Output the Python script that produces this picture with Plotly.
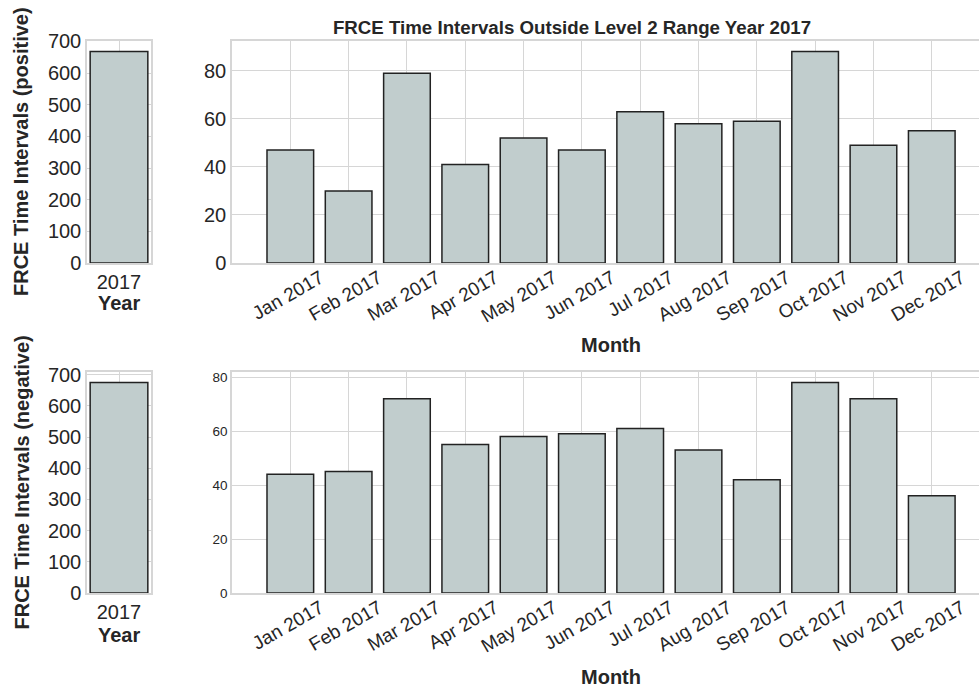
import plotly.graph_objects as go

# ---------------- data ----------------
months = ["Jan 2017", "Feb 2017", "Mar 2017", "Apr 2017", "May 2017", "Jun 2017",
          "Jul 2017", "Aug 2017", "Sep 2017", "Oct 2017", "Nov 2017", "Dec 2017"]
pos_monthly = [47, 30, 79, 41, 52, 47, 63, 58, 59, 88, 49, 55]
neg_monthly = [44, 45, 72, 55, 58, 59, 61, 53, 42, 78, 72, 36]
years = ["2017"]
pos_yearly = [sum(pos_monthly)]
neg_yearly = [sum(neg_monthly)]

title_text = "FRCE Time Intervals Outside Level 2 Range Year 2017"
ylab_pos = "FRCE Time Intervals (positive)"
ylab_neg = "FRCE Time Intervals (negative)"

# ---------------- style ----------------
W, H = 979, 689
FILL = "#C1CDCD"
EDGE = "#222222"
GRID = "#d6d6d6"
TXT = "#262626"
FONT = "Liberation Sans, Arial, sans-serif"


def px_x(p):
    return p / W


def px_y(p):
    return 1 - p / H


left_dom = [px_x(87), px_x(151)]
right_dom = [px_x(232), 1.0]
top_dom = [px_y(263), px_y(41)]
bot_dom = [px_y(593), px_y(372)]

fig = go.Figure()

bar_style = dict(marker=dict(color=FILL, line=dict(color=EDGE, width=1.5)),
                 showlegend=False, hoverinfo="x+y")

fig.add_trace(go.Bar(x=years, y=pos_yearly, width=0.8, xaxis="x", yaxis="y", **bar_style))
fig.add_trace(go.Bar(x=months, y=pos_monthly, width=0.8, xaxis="x2", yaxis="y2", **bar_style))
fig.add_trace(go.Bar(x=years, y=neg_yearly, width=0.8, xaxis="x3", yaxis="y3", **bar_style))
fig.add_trace(go.Bar(x=months, y=neg_monthly, width=0.8, xaxis="x4", yaxis="y4", **bar_style))

common = dict(showline=True, mirror=True, linecolor=GRID, linewidth=1.5,
              showgrid=True, gridcolor=GRID, gridwidth=1, zeroline=False,
              ticks="", automargin=False, color=TXT)

year_x = dict(common, type="category", range=[-0.444, 0.444],
              tickfont=dict(size=20, family=FONT, color=TXT))
month_x = dict(common, type="category", range=[-1, 11.81], tickangle=-30,
               ticklabelshift=30, ticklabelstandoff=-5,
               tickfont=dict(size=19, family=FONT, color=TXT))
right_y = dict(common, mirror=False)

fig.update_layout(
    width=W, height=H,
    margin=dict(l=0, r=0, t=0, b=0),
    paper_bgcolor="white", plot_bgcolor="white",
    font=dict(family=FONT, color=TXT),
    bargap=0.2,
    xaxis=dict(year_x, domain=left_dom, anchor="y"),
    yaxis=dict(common, domain=top_dom, anchor="x", range=[0, 701.4],
               tickvals=[0, 100, 200, 300, 400, 500, 600, 700],
               tickfont=dict(size=20, family=FONT, color=TXT)),
    xaxis2=dict(month_x, domain=right_dom, anchor="y2"),
    yaxis2=dict(right_y, domain=top_dom, anchor="x2", range=[0, 92.4],
                tickvals=[0, 20, 40, 60, 80],
                tickfont=dict(size=20, family=FONT, color=TXT)),
    xaxis3=dict(year_x, domain=left_dom, anchor="y3"),
    yaxis3=dict(common, domain=bot_dom, anchor="x3", range=[0, 709],
                tickvals=[0, 100, 200, 300, 400, 500, 600, 700],
                tickfont=dict(size=20, family=FONT, color=TXT)),
    xaxis4=dict(month_x, domain=right_dom, anchor="y4"),
    yaxis4=dict(right_y, domain=bot_dom, anchor="x4", range=[0, 81.9],
                tickvals=[0, 20, 40, 60, 80],
                tickfont=dict(size=13.5, family=FONT, color=TXT)),
    title=dict(text="<b>" + title_text + "</b>", x=px_x(572), xanchor="center",
               y=px_y(27), yanchor="middle", xref="paper", yref="paper",
               font=dict(size=18.7, family=FONT, color=TXT)),
)

ann_font = dict(size=20, family=FONT, color=TXT)
annotations = [
    dict(text="<b>" + ylab_pos + "</b>", x=px_x(21), y=(top_dom[0] + top_dom[1]) / 2,
         textangle=-90),
    dict(text="<b>" + ylab_neg + "</b>", x=px_x(21), y=(bot_dom[0] + bot_dom[1]) / 2,
         textangle=-90),
    dict(text="<b>Year</b>", x=px_x(119), y=px_y(303)),
    dict(text="<b>Year</b>", x=px_x(119), y=px_y(635)),
    dict(text="<b>Month</b>", x=px_x(611), y=px_y(345)),
    dict(text="<b>Month</b>", x=px_x(611), y=px_y(677)),
]
for a in annotations:
    a.update(xref="paper", yref="paper", showarrow=False, font=ann_font,
             xanchor="center", yanchor="middle")
fig.update_layout(annotations=annotations)

fig.write_html("out.html",
               config={"displayModeBar": False},
               post_script="document.body.style.margin='0px';"
                           "document.body.style.overflow='hidden';")
